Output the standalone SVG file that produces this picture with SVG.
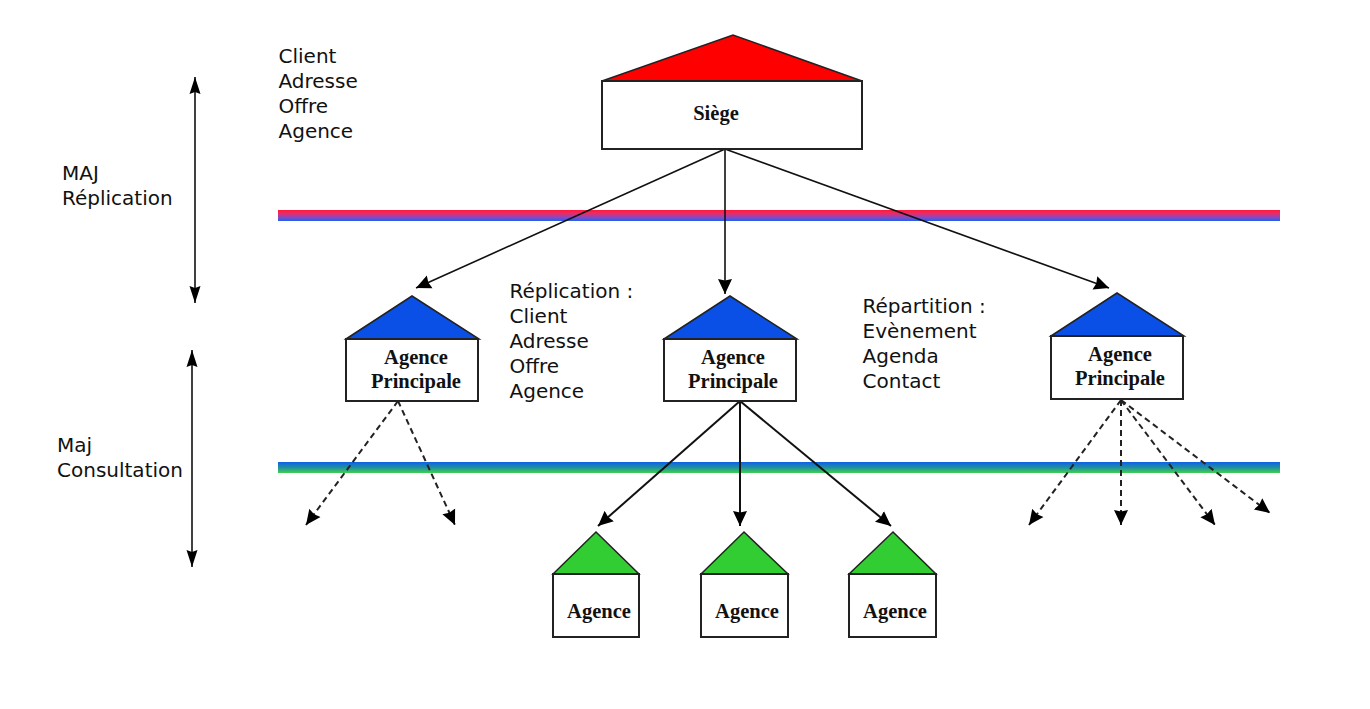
<svg xmlns="http://www.w3.org/2000/svg" width="1370" height="709" viewBox="0 0 1370 709">
<style>
.b{fill:#fff;stroke:#222;stroke-width:2}
.s{font-family:"Liberation Serif",serif;font-weight:bold;font-size:20.5px;fill:#111;text-anchor:middle}
.t{font-family:"DejaVu Sans",sans-serif;font-size:20px;fill:#111}
.r{stroke:#222;stroke-width:1.5;fill:#000}
.c{stroke:#111;stroke-width:1.6;fill:none}
.cm{marker-end:url(#a)}
.d{stroke:#222;stroke-width:2;fill:none;stroke-dasharray:6 4;marker-end:url(#a)}
.dbl{marker-start:url(#as);marker-end:url(#ae)}
</style>
<defs>
<marker id="a" markerUnits="userSpaceOnUse" markerWidth="16" markerHeight="16" refX="15" refY="8" orient="auto"><path d="M0 1L15 8L0 15L1.5 8z" fill="#000"/></marker>
<marker id="ae" markerUnits="userSpaceOnUse" markerWidth="18" markerHeight="12" refX="17" refY="6" orient="auto"><path d="M0 0.5L17 6L0 11.5L2 6z" fill="#000"/></marker>
<marker id="as" markerUnits="userSpaceOnUse" markerWidth="18" markerHeight="12" refX="1" refY="6" orient="auto"><path d="M18 0.5L1 6L18 11.5L16 6z" fill="#000"/></marker>
<linearGradient id="rb" x1="0" y1="0" x2="0" y2="1"><stop offset="0" stop-color="#ff1a3c"/><stop offset="0.3" stop-color="#ee2a60"/><stop offset="0.65" stop-color="#8c48c0"/><stop offset="1" stop-color="#2060f0"/></linearGradient>
<linearGradient id="bg" x1="0" y1="0" x2="0" y2="1"><stop offset="0" stop-color="#1060e8"/><stop offset="0.5" stop-color="#1f90a0"/><stop offset="1" stop-color="#40d050"/></linearGradient>
</defs>
<g id="bands">
<rect x="278" y="210" width="1002" height="11" fill="url(#rb)"/>
<rect x="278" y="462" width="1002" height="11" fill="url(#bg)"/>
</g>
<g id="connectors">
<path class="c cm" d="M725 149L416 288"/>
<path class="c cm" d="M725 149V294"/>
<path class="c cm" d="M725 149L1109 288"/>
<path class="d" d="M398 401L306 525"/>
<path class="d" d="M398 401L455 525"/>
<path class="c cm" style="stroke-width:2" d="M740 401L598 526"/>
<path class="c cm" style="stroke-width:2" d="M740 401V526"/>
<path class="c cm" style="stroke-width:2" d="M740 401L891 526"/>
<path class="d" d="M1121 400L1029 525"/>
<path class="d" d="M1121 400V525"/>
<path class="d" d="M1121 400L1215 525"/>
<path class="d" d="M1121 400L1270 513"/>
<path class="c dbl" d="M195 77V303"/>
<path class="c dbl" d="M192 350V567"/>
</g>
<g id="siege"><polygon class="r" style="fill:#f00" points="602,81 733,35 862,81"/><rect class="b" x="602" y="81" width="260" height="68"/><text class="s" x="716" y="120">Siège</text></g>
<g id="ap1"><polygon class="r" style="fill:#0a50e6" points="346,339 412,296 479,339"/><rect class="b" x="346" y="339" width="132" height="62"/><text class="s" x="416" y="364">Agence</text><text class="s" x="416" y="388">Principale</text></g>
<g id="ap2"><polygon class="r" style="fill:#0a50e6" points="664,339 730,296 797,339"/><rect class="b" x="664" y="339" width="132" height="62"/><text class="s" x="733" y="364">Agence</text><text class="s" x="733" y="388">Principale</text></g>
<g id="ap3"><polygon class="r" style="fill:#0a50e6" points="1051,336 1117,293 1184,336"/><rect class="b" x="1051" y="336" width="132" height="63"/><text class="s" x="1120" y="361">Agence</text><text class="s" x="1120" y="385">Principale</text></g>
<g id="a1"><polygon class="r" style="fill:#32cd32" points="553,574 596,532 639,574"/><rect class="b" x="553" y="574" width="86" height="63"/><text class="s" x="599" y="618">Agence</text></g>
<g id="a2"><polygon class="r" style="fill:#32cd32" points="701,574 744,532 788,574"/><rect class="b" x="701" y="574" width="87" height="63"/><text class="s" x="747" y="618">Agence</text></g>
<g id="a3"><polygon class="r" style="fill:#32cd32" points="849,574 893,532 936,574"/><rect class="b" x="849" y="574" width="87" height="63"/><text class="s" x="895" y="618">Agence</text></g>
<g id="labels">
<text class="t" x="278.5" y="63">Client</text><text class="t" x="278.5" y="88">Adresse</text><text class="t" x="278.5" y="113">Offre</text><text class="t" x="278.5" y="138">Agence</text>
<text class="t" x="62" y="180">MAJ</text><text class="t" x="62" y="205">Réplication</text>
<text class="t" x="509.5" y="298">Réplication :</text><text class="t" x="509.5" y="323">Client</text><text class="t" x="509.5" y="348">Adresse</text><text class="t" x="509.5" y="373">Offre</text><text class="t" x="509.5" y="398">Agence</text>
<text class="t" x="862.5" y="313">Répartition :</text><text class="t" x="862.5" y="338">Evènement</text><text class="t" x="862.5" y="363">Agenda</text><text class="t" x="862.5" y="388">Contact</text>
<text class="t" x="57" y="452">Maj</text><text class="t" x="57" y="477">Consultation</text>
</g>
</svg>
